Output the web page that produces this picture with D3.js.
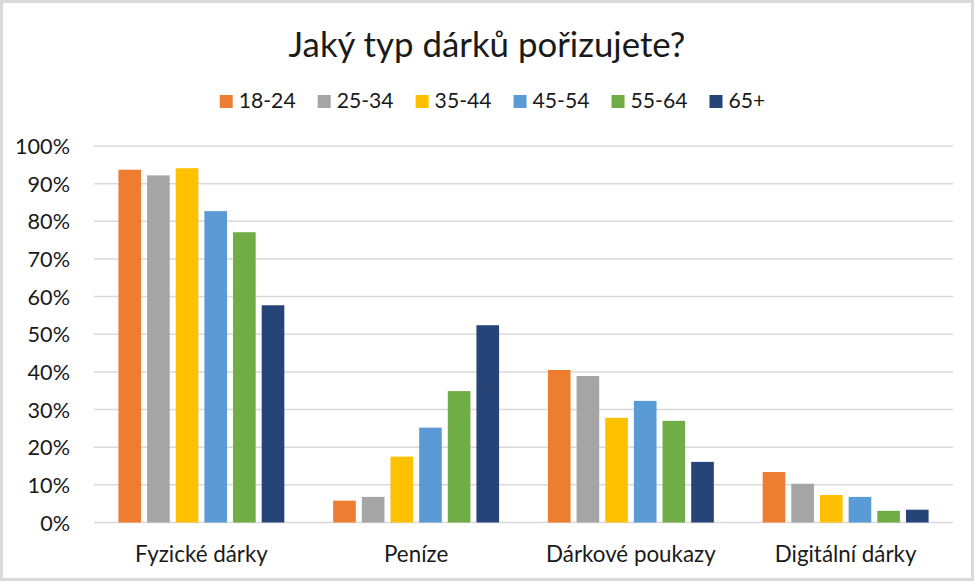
<!DOCTYPE html>
<html><head><meta charset="utf-8">
<script src="https://cdn.jsdelivr.net/npm/d3@7"></script>
<style>html,body{margin:0;padding:0;background:#fff;}svg{display:block;}</style>
</head><body>
<svg id="chart" width="977" height="584"></svg>
<script>
const title = "Jaký typ dárků pořizujete?";
const categories = ["Fyzické dárky", "Peníze", "Dárkové poukazy", "Digitální dárky"];
const seriesNames = ["18-24", "25-34", "35-44", "45-54", "55-64", "65+"];
const seriesColors = ["#ED7D31", "#A5A5A5", "#FFC000", "#5B9BD5", "#70AD47", "#264478"];
const v1824 = [93.7, 5.8, 40.5, 13.4];
const v2534 = [92.2, 6.8, 38.9, 10.3];
const v3544 = [94.1, 17.5, 27.8, 7.3];
const v4554 = [82.7, 25.2, 32.3, 6.8];
const v5564 = [77.1, 34.9, 27.0, 3.1];
const v65 = [57.7, 52.4, 16.1, 3.4];
const seriesValues = [v1824, v2534, v3544, v4554, v5564, v65];
const yTicks = [0, 10, 20, 30, 40, 50, 60, 70, 80, 90, 100];

const font = "Lato, 'Open Sans', sans-serif";
const svg = d3.select("#chart");
const W = 977, H = 584;

// border
svg.append("rect").attr("x", 1.5).attr("y", 1.5).attr("width", 971).attr("height", 578)
  .attr("fill", "#fff").attr("stroke", "#d9d9d9").attr("stroke-width", 3);

const plot = {left: 94, right: 953, top: 146, bottom: 522.5};
const x0 = d3.scaleBand().domain(categories).range([plot.left, plot.right]).padding(0);
const bw = x0.bandwidth();
const x1 = d3.scaleBand().domain(seriesNames).range([bw * 0.1137, bw * 0.8863]).paddingInner(0.21).paddingOuter(0);
const y = d3.scaleLinear().domain([0, 100]).range([plot.bottom, plot.top]);

// fit helper
function fit(sel, target) {
  const w = sel.node().getComputedTextLength();
  const fs = parseFloat(sel.attr("font-size"));
  sel.attr("font-size", fs * target / w);
  return fs * target / w;
}

// gridlines
svg.append("g").selectAll("line").data(yTicks).join("line")
  .attr("x1", plot.left).attr("x2", plot.right)
  .attr("y1", d => y(d)).attr("y2", d => y(d))
  .attr("stroke", "#d9d9d9").attr("stroke-width", 1.5);

// y axis labels
const yAxis = d3.axisLeft(y).tickValues(yTicks).tickFormat(d => d + "%").tickSize(0).tickPadding(0);
const yg = svg.append("g").attr("transform", `translate(70,0)`).call(yAxis);
yg.select(".domain").remove();
yg.selectAll("text").attr("font-family", font).attr("font-size", 20).attr("fill", "#1a1a1a").attr("dy", "0.35em");
let tfs = 20;
yg.selectAll("text").filter(d => d === 100).each(function () { tfs = fit(d3.select(this), 55); });
yg.selectAll("text").attr("font-size", tfs);

// bars
const groups = svg.append("g").selectAll("g").data(categories).join("g")
  .attr("transform", d => `translate(${x0(d)},0)`);
groups.selectAll("rect").data((c, ci) => seriesNames.map((s, si) => ({s, si, v: seriesValues[si][ci]})))
  .join("rect")
  .attr("x", d => x1(d.s)).attr("width", x1.bandwidth())
  .attr("y", d => y(d.v)).attr("height", d => y(0) - y(d.v))
  .attr("fill", d => seriesColors[d.si]);

// x axis labels
const xAxis = d3.axisBottom(x0).tickSize(0).tickPadding(0);
const xg = svg.append("g").attr("transform", `translate(0,562)`).call(xAxis);
xg.select(".domain").remove();
xg.selectAll("text").attr("font-family", font).attr("font-size", 20).attr("fill", "#1a1a1a").attr("dy", null).attr("y", 0);
let cfs = 20;
xg.selectAll("text").filter(d => d === categories[0]).each(function () { cfs = fit(d3.select(this), 133); });
xg.selectAll("text").attr("font-size", cfs);

// title
const t = svg.append("text").attr("x", 487).attr("y", 57).attr("text-anchor", "middle")
  .attr("font-family", font).attr("font-size", 30).attr("fill", "#1a1a1a").text(title);
fit(t, 397);

// legend
const lg = svg.append("g");
const items = lg.selectAll("g").data(seriesNames).join("g");
items.append("rect").attr("width", 13).attr("height", 13).attr("y", 95).attr("fill", (d, i) => seriesColors[i]);
const ltexts = items.append("text").attr("x", 19).attr("y", 108).attr("font-family", font)
  .attr("font-size", 20).attr("fill", "#1a1a1a").text(d => d);
let lfs = 20;
ltexts.filter(d => d === "18-24").each(function () { lfs = fit(d3.select(this), 57); });
ltexts.attr("font-size", lfs);
let cx = 0;
const offs = [];
ltexts.each(function () { offs.push(cx); cx += 19 + this.getComputedTextLength() + 22; });
const totalW = cx - 22;
const start = 492.5 - totalW / 2;
items.attr("transform", (d, i) => `translate(${start + offs[i]},0)`);
</script>
</body></html>
